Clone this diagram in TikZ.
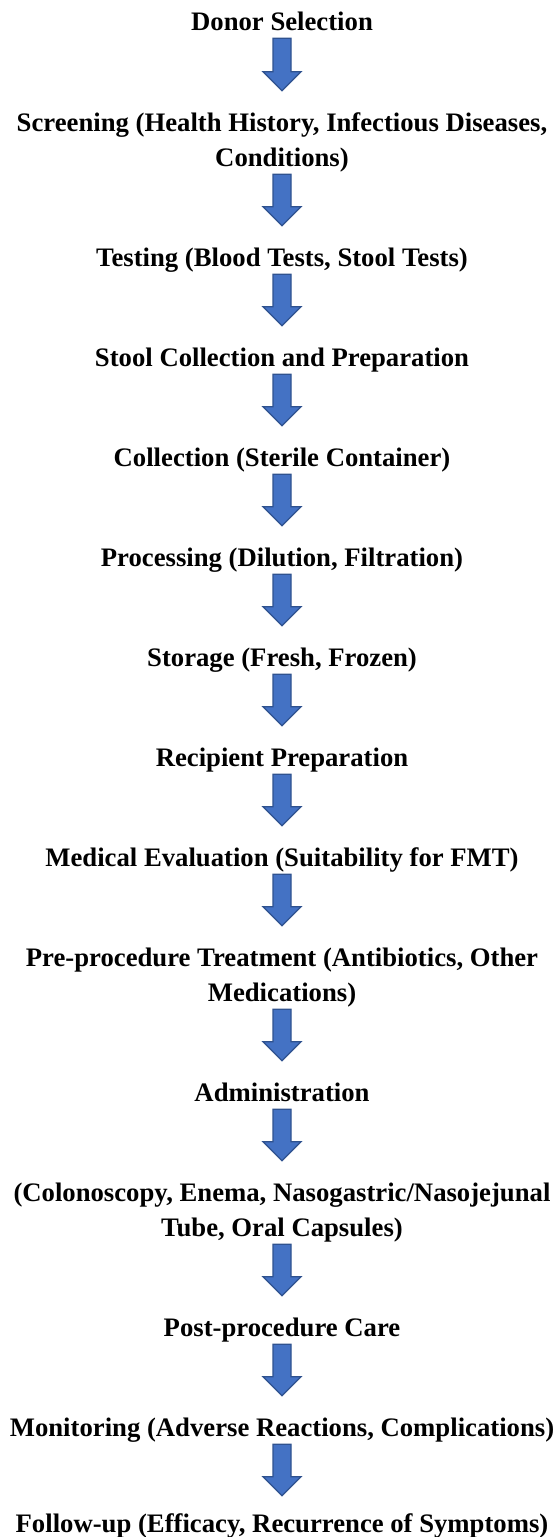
\documentclass[tikz,border=0pt]{standalone}
\usepackage{fontspec}
\setmainfont{Liberation Serif}
\usetikzlibrary{calc}
\definecolor{arrowfill}{HTML}{4472C4}
\definecolor{arrowline}{HTML}{2F528F}
\newcommand\steptext[1]{\begin{tabular}[t]{@{}c@{}}#1\end{tabular}}
\tikzset{
  stepnode/.style={inner sep=0pt, anchor=base, font=\bfseries\fontsize{26.7}{35}\selectfont},
  blockarrow/.style={fill=arrowfill, draw=arrowline, line width=1.3pt, line join=miter}
}
\newcommand\fmtarrow[3][15.5pt]{%
  \draw[blockarrow] let \p1=($(#2.south)+(0,2.5pt)$), \p2=($(#3.north)+(0,#1)$) in
  (\x1-9pt,\y1) -- (\x1+9pt,\y1) -- (\x1+9pt,\y2+19pt) -- (\x1+19pt,\y2+19pt) --
  (\x1,\y2) -- (\x1-19pt,\y2+19pt) -- (\x1-9pt,\y2+19pt) -- cycle;}
\begin{document}
\begin{tikzpicture}[x=1pt,y=1pt]
\useasboundingbox (0,0) rectangle (556,-1537);
\node[stepnode] (n1) at (282,-30) {\steptext{Donor Selection}};
\node[stepnode] (n2) at (282,-131) {\steptext{Screening (Health History, Infectious Diseases,\\Conditions)}};
\node[stepnode] (n3) at (282,-266) {\steptext{Testing (Blood Tests, Stool Tests)}};
\node[stepnode] (n4) at (282,-366) {\steptext{Stool Collection and Preparation}};
\node[stepnode] (n5) at (282,-466) {\steptext{Collection (Sterile Container)}};
\node[stepnode] (n6) at (282,-566) {\steptext{Processing (Dilution, Filtration)}};
\node[stepnode] (n7) at (282,-666) {\steptext{Storage (Fresh, Frozen)}};
\node[stepnode] (n8) at (282,-766) {\steptext{Recipient Preparation}};
\node[stepnode] (n9) at (282,-866) {\steptext{Medical Evaluation (Suitability for FMT)}};
\node[stepnode] (n10) at (282,-966) {\steptext{Pre-procedure Treatment (Antibiotics, Other\\Medications)}};
\node[stepnode] (n11) at (282,-1101) {\steptext{Administration}};
\node[stepnode] (n12) at (282,-1201) {\steptext{(Colonoscopy, Enema, Nasogastric/Nasojejunal\\Tube, Oral Capsules)}};
\node[stepnode] (n13) at (282,-1336) {\steptext{Post-procedure Care}};
\node[stepnode] (n14) at (282,-1436) {\steptext{Monitoring (Adverse Reactions, Complications)}};
\node[stepnode] (n15) at (282,-1532) {\steptext{Follow-up (Efficacy, Recurrence of Symptoms)}};
\fmtarrow{n1}{n2}
\fmtarrow{n2}{n3}
\fmtarrow{n3}{n4}
\fmtarrow{n4}{n5}
\fmtarrow{n5}{n6}
\fmtarrow{n6}{n7}
\fmtarrow{n7}{n8}
\fmtarrow{n8}{n9}
\fmtarrow{n9}{n10}
\fmtarrow{n10}{n11}
\fmtarrow{n11}{n12}
\fmtarrow{n12}{n13}
\fmtarrow{n13}{n14}
\fmtarrow[11.5pt]{n14}{n15}
\end{tikzpicture}
\end{document}
